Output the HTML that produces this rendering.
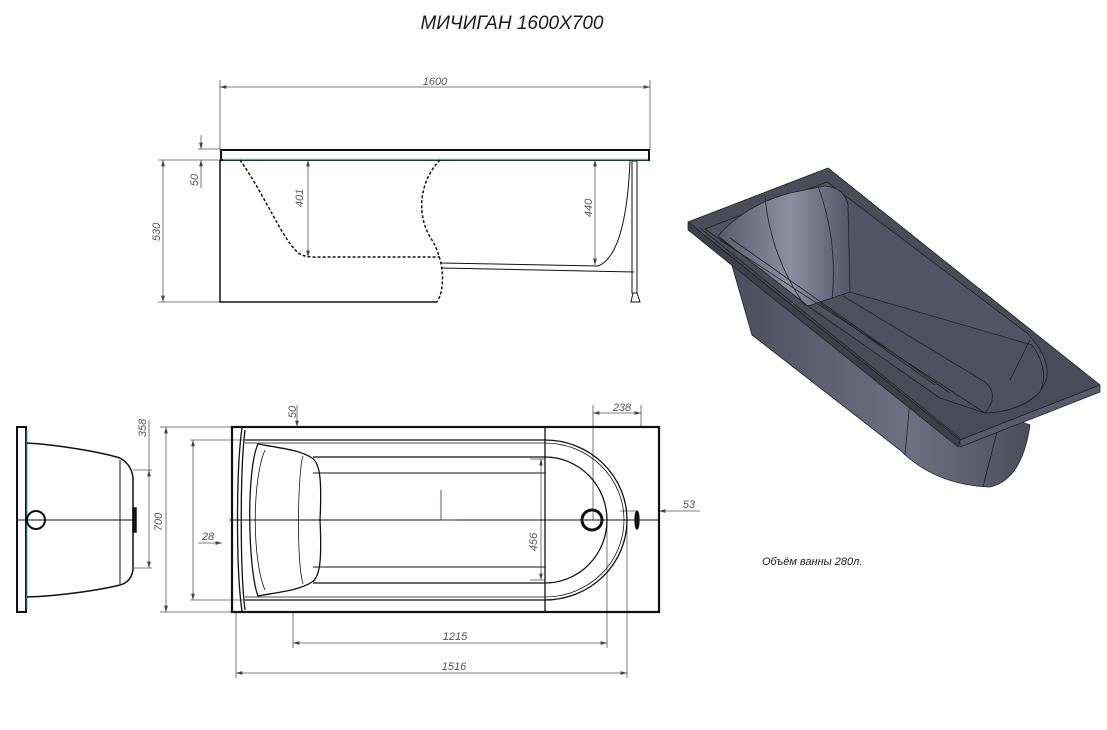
<!DOCTYPE html>
<html><head><meta charset="utf-8"><style>
html,body{margin:0;padding:0;background:#fff}
svg{display:block}
text{font-family:"Liberation Sans",sans-serif;font-style:italic;fill:#555}
text.dk{fill:#1a1a1a}
</style></head><body>
<svg width="1107" height="730" viewBox="0 0 1107 730" xmlns="http://www.w3.org/2000/svg">
<defs>
<marker id="a" viewBox="0 0 10 6" refX="10" refY="3" markerWidth="8" markerHeight="5" orient="auto-start-reverse"><path d="M0,0L10,3L0,6z" fill="#444"/></marker>
<linearGradient id="g1" x1="0" y1="0" x2="1" y2="0"><stop offset="0" stop-color="#5a5b6e"/><stop offset="0.55" stop-color="#8d8ea2"/><stop offset="1" stop-color="#55566a"/></linearGradient>
<linearGradient id="g2" x1="0" y1="0" x2="1" y2="0"><stop offset="0" stop-color="#4c4d5c"/><stop offset="0.6" stop-color="#6f7084"/><stop offset="1" stop-color="#4c4d5c"/></linearGradient>
</defs>
<text class="dk" x="512" y="29" font-size="19" text-anchor="middle">МИЧИГАН 1600X700</text>

<!-- Side elevation -->
<g stroke="#555" stroke-width="0.8" fill="none">
<line x1="220" y1="80" x2="220" y2="150"/><line x1="650" y1="80" x2="650" y2="150"/>
<line x1="220" y1="87" x2="650" y2="87" marker-start="url(#a)" marker-end="url(#a)"/>
<line x1="158" y1="160" x2="220" y2="160"/><line x1="158" y1="302" x2="220" y2="302"/>
<line x1="163" y1="160" x2="163" y2="302" marker-start="url(#a)" marker-end="url(#a)"/>
<line x1="198" y1="149" x2="220" y2="149"/>
<line x1="201" y1="135" x2="201" y2="149" marker-end="url(#a)"/>
<line x1="201" y1="188" x2="201" y2="160" marker-end="url(#a)"/>
<line x1="308" y1="160" x2="308" y2="257" marker-start="url(#a)" marker-end="url(#a)"/>
<line x1="595" y1="160" x2="595" y2="265" marker-start="url(#a)" marker-end="url(#a)"/>
</g>
<text x="435" y="85" font-size="11" text-anchor="middle">1600</text>
<text transform="translate(160,232) rotate(-90)" font-size="11" text-anchor="middle">530</text>
<text transform="translate(198,180) rotate(-90)" font-size="11" text-anchor="middle">50</text>
<text transform="translate(303,198) rotate(-90)" font-size="11" text-anchor="middle">401</text>
<text transform="translate(592,208) rotate(-90)" font-size="11" text-anchor="middle">440</text>
<g stroke="#111" fill="none" stroke-width="1.5">
<rect x="221" y="150" width="428" height="10" stroke-width="2"/>
<line x1="223" y1="159.5" x2="648" y2="159.5" stroke="#5aa8c8" stroke-width="1.5"/>
<path d="M220,160V302H437"/>
<path d="M240,160C265,195 285,245 300,254C306,258 320,257 330,257H440" stroke-dasharray="3,2"/>
<path d="M440,160C420,180 415,215 432,240C445,262 445,290 437,302" stroke-dasharray="3,2"/>
<path d="M441,263L598,266M441,268L634,272" stroke-width="1"/>
<path d="M630,161C628,210 620,258 598,266" stroke-width="1"/>
<rect x="632" y="161" width="5" height="132" stroke-width="1"/>
<path d="M631,302L633,293H637L640,302Z" stroke-width="1"/>
</g>

<!-- End view -->
<g stroke="#111" fill="none" stroke-width="1.5">
<rect x="17" y="427" width="9" height="185" stroke-width="2"/>
<line x1="27" y1="430" x2="27" y2="609" stroke="#5aa8c8" stroke-width="1"/>
<path d="M27,443C60,445 100,452 120,458Q132,465 133,478V570Q131,582 120,585C100,590 60,596 27,597"/>
<line x1="120" y1="460" x2="120" y2="584" stroke-width="1"/>
<line x1="16" y1="520" x2="134" y2="520" stroke-width="1"/>
<circle cx="36" cy="520" r="9" stroke-width="2"/>
<rect x="133" y="508" width="3" height="24" fill="#111"/>
</g>
<g stroke="#555" stroke-width="0.8" fill="none">
<line x1="133" y1="470" x2="152" y2="470"/><line x1="133" y1="568" x2="152" y2="568"/>
<line x1="149" y1="470" x2="149" y2="568" marker-start="url(#a)" marker-end="url(#a)"/>
<line x1="149" y1="420" x2="149" y2="470"/>
</g>
<text transform="translate(146,428) rotate(-90)" font-size="11" text-anchor="middle">358</text>
<text transform="translate(162,522) rotate(-90)" font-size="11" text-anchor="middle">700</text>

<!-- Plan view -->
<g stroke="#555" stroke-width="0.8" fill="none">
<line x1="160" y1="427" x2="232" y2="427"/><line x1="160" y1="612" x2="232" y2="612"/>
<line x1="166" y1="427" x2="166" y2="612" marker-start="url(#a)" marker-end="url(#a)"/>
<line x1="190" y1="440" x2="250" y2="440"/><line x1="190" y1="600" x2="250" y2="600"/>
<line x1="193" y1="440" x2="193" y2="600" marker-start="url(#a)" marker-end="url(#a)"/>
<line x1="198" y1="543" x2="222" y2="543" marker-end="url(#a)"/>
<line x1="297" y1="405" x2="297" y2="427" marker-end="url(#a)"/>
<line x1="593" y1="405" x2="593" y2="520"/><line x1="641" y1="405" x2="641" y2="427"/>
<line x1="593" y1="413" x2="641" y2="413" marker-start="url(#a)" marker-end="url(#a)"/>
<line x1="530" y1="459" x2="545" y2="459"/><line x1="530" y1="580" x2="545" y2="580"/>
<line x1="541" y1="459" x2="541" y2="580" marker-start="url(#a)" marker-end="url(#a)"/>
<line x1="700" y1="511" x2="659" y2="511" marker-end="url(#a)"/>
<line x1="620" y1="511" x2="637" y2="511"/>
<line x1="293" y1="612" x2="293" y2="648"/><line x1="607" y1="520" x2="607" y2="648"/>
<line x1="293" y1="643" x2="607" y2="643" marker-start="url(#a)" marker-end="url(#a)"/>
<line x1="236" y1="612" x2="236" y2="678"/><line x1="627" y1="520" x2="627" y2="678"/>
<line x1="236" y1="673" x2="627" y2="673" marker-start="url(#a)" marker-end="url(#a)"/>
</g>
<text x="208" y="540" font-size="11" text-anchor="middle">28</text>
<text transform="translate(296,412) rotate(-90)" font-size="11" text-anchor="middle">50</text>
<text x="622" y="411" font-size="11" text-anchor="middle">238</text>
<text transform="translate(537,542) rotate(-90)" font-size="11" text-anchor="middle">456</text>
<text x="689" y="508" font-size="11" text-anchor="middle">53</text>
<text x="455" y="640" font-size="11" text-anchor="middle">1215</text>
<text x="454" y="670" font-size="11" text-anchor="middle">1516</text>
<g stroke="#111" fill="none" stroke-width="1.3">
<rect x="232" y="427" width="427" height="185" stroke-width="2.2"/>
<path d="M242,428C236,470 236,570 242,611"/>
<path d="M245,430C240,470 240,570 245,610"/>
<line x1="545" y1="427" x2="545" y2="612"/>
<path d="M245,440H545A82,80 0 0 1 545,600H245"/>
<path d="M245,443H545A79,77 0 0 1 545,597H245" stroke-width="0.8"/>
<path d="M313,457H545A62,63 0 0 1 545,583H313"/>
<path d="M313,473H545M313,567H545" stroke-width="1"/>
<path d="M258,444C280,448 300,450 312,458C320,463 322,480 320,520C322,560 320,577 312,582C300,590 280,592 258,596C248,570 246,470 258,444Z"/>
<path d="M265,450C252,480 252,560 265,590" stroke-width="0.8"/>
<path d="M303,456C298,470 296,560 303,584" stroke-width="0.8"/>
<line x1="230" y1="520" x2="660" y2="520" stroke-width="1"/>
<circle cx="592" cy="520" r="10" stroke-width="3"/>
<ellipse cx="637" cy="520" rx="2" ry="9" fill="#111"/>
<path d="M441,490V520H458" stroke="#336" stroke-width="0.8"/>
</g>

<!-- 3D view -->
<g stroke="#222" stroke-width="0.8" stroke-linejoin="round">
<path d="M731,262L752,335L900,450Q935,485 990,487Q1022,480 1030,425L900,380Z" fill="url(#g2)"/>
<path d="M905,455L910,400M983,487L1000,420" fill="none"/>
<path d="M688,222L828,168L1100,385L960,440Z" fill="#4b4c5a"/>
<path d="M688,222L688,230L958,447L960,440Z" fill="#3e3f4c"/>
<path d="M960,440L960,447L1100,392L1100,385Z" fill="#5a5b6a"/>
<path d="M705,229L827,182L1027,333Q1052,360 1046,380Q1035,410 985,413L715,236Z" fill="#535465"/>
<path d="M700,228L960,438" fill="none"/>
<path d="M718,236Q745,205 790,193L825,186Q845,188 848,205L850,292Q845,300 830,303L808,306Z" fill="url(#g1)"/>
<path d="M765,196Q770,255 805,306M818,186Q838,240 832,300" fill="none"/>
<path d="M808,306L850,292L1032,345Q1050,370 1040,392Q1020,412 985,413L940,398Z" fill="#4f5060"/>
<path d="M820,303L935,385M843,296L985,382M985,382Q1000,395 985,413M1030,340L1010,380" fill="none"/>
<path d="M720,240L985,413M730,238L950,393" fill="none"/>
</g>
<text class="dk" x="762" y="565" font-size="11">Объём ванны 280л.</text>
</svg>
</body></html>
